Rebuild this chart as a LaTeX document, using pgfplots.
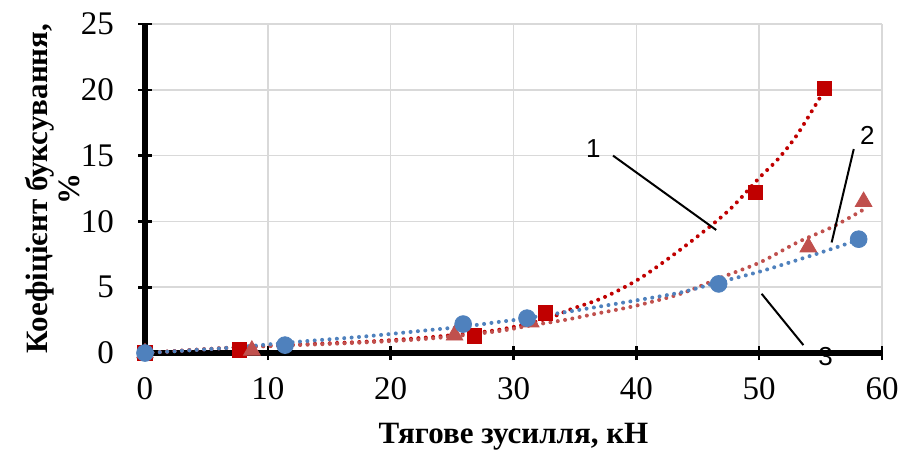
\documentclass[border=0pt]{standalone}
\usepackage{fontspec}
\setmainfont{Liberation Serif}
\newfontfamily\arial{Liberation Sans}
\usepackage{pgfplots}
\pgfplotsset{compat=1.18}

\definecolor{sq}{HTML}{C00000}
\definecolor{tri}{HTML}{C0504D}
\definecolor{circ}{HTML}{4F81BD}
\definecolor{gridc}{HTML}{D9D9D9}

\begin{document}
\begin{tikzpicture}
\begin{axis}[
  scale only axis,
  width=368.5pt, height=164.5pt,
  xmin=0, xmax=60, ymin=0, ymax=25,
  xtick={0,10,...,60}, ytick={0,5,...,25},
  grid=major,
  major grid style={gridc, line width=0.8pt},
  axis x line*=bottom, axis y line*=left,
  axis line style={black, line width=2.8pt, -},
  tick align=center, major tick length=7pt,
  tick style={black, line width=1.3pt},
  tick label style={font=\fontsize{16.5}{17}\selectfont},
  /pgf/number format/assume math mode=true,
  xticklabel style={yshift=-5pt},
  yticklabel style={xshift=-8.5pt},
  xlabel={\bfseries Тягове зусилля, кН},
  ylabel={\bfseries Коефіцієнт буксування,\\ \bfseries\%},
  label style={font=\fontsize{15.5}{16}\selectfont},
  xlabel style={at={(axis description cs:0.5,-0.255)}, anchor=center},
  ylabel style={at={(axis description cs:-0.125,0.5)}, anchor=center, rotate=0, align=center},
  clip=false,
]
% experimental points
\addplot[only marks, mark=square*, mark size=3.6pt, color=sq] coordinates {
  (0,0) (7.7,0.25) (26.8,1.3) (32.6,3.05) (49.7,12.2) (55.3,20.1)
};
\addplot[only marks, mark=triangle*, mark size=4.8pt, color=tri] coordinates {
  (0,0) (8.7,0.2) (25.2,1.35) (31.4,2.35) (54.0,8.05) (58.5,11.5)
};
\addplot[only marks, mark=*, mark size=4.2pt, color=circ] coordinates {
  (0,0) (11.4,0.6) (25.9,2.2) (31.1,2.65) (46.7,5.25) (58.1,8.65)
};
% trend lines
\addplot[smooth, color=sq, line width=2pt, line cap=round, dash pattern=on 0pt off 3.7pt] coordinates {
  (0,0) (6.9,0.4) (12.4,0.65) (17.8,0.85) (23.2,1.2) (28.7,1.75) (32.7,2.6)
  (34.6,3.3) (37.3,4.2) (40,5.5) (42.2,6.9) (44.9,8.8) (47.6,10.9)
  (50.1,13.4) (51.5,14.7) (53.1,16.6) (55.2,19.8)
};
\addplot[smooth, color=tri, line width=2pt, line cap=round, dash pattern=on 0pt off 3.7pt] coordinates {
  (0,0) (6.9,0.4) (12.4,0.6) (17.8,0.8) (23.2,1.1) (28.7,1.65) (31.4,2.1)
  (34.1,2.5) (36.8,3.0) (40,3.6) (43.6,4.5) (46.8,5.7) (50.1,6.9)
  (53.1,8.4) (56,9.6) (58.5,10.9)
};
\addplot[smooth, color=circ, line width=2pt, line cap=round, dash pattern=on 0pt off 3.7pt] coordinates {
  (0,0) (6.9,0.4) (12.4,0.85) (17.8,1.25) (23.2,1.75) (25.9,2.0) (28.7,2.35)
  (30,2.5) (33.5,3.0) (36.8,3.5) (40,4.0) (43.6,4.6) (46.8,5.4)
  (50.1,6.2) (54.4,7.45) (58.1,8.6)
};
% annotations
\draw[black, line width=1pt] (axis cs:38.1,15.0) -- (axis cs:46.5,9.35);
\node[font=\arial\fontsize{13}{13}\selectfont] at (axis cs:36.5,15.5) {1};
\draw[black, line width=1pt] (axis cs:57.7,15.5) -- (axis cs:55.9,8.4);
\node[font=\arial\fontsize{13}{13}\selectfont] at (axis cs:58.8,16.5) {2};
\draw[black, line width=1pt] (axis cs:50.2,4.5) -- (axis cs:53.6,0.6);
\node[font=\arial\fontsize{13}{13}\selectfont] at (axis cs:55.4,-0.25) {3};
% x axis line passes over label 3
\draw[black, line width=2.8pt] (axis cs:50,0) -- (axis cs:60,0);
\end{axis}
\pgfresetboundingbox
\path[use as bounding box] (-72.5pt,-49.5pt) rectangle (379pt,176.5pt);
\end{tikzpicture}
\end{document}
